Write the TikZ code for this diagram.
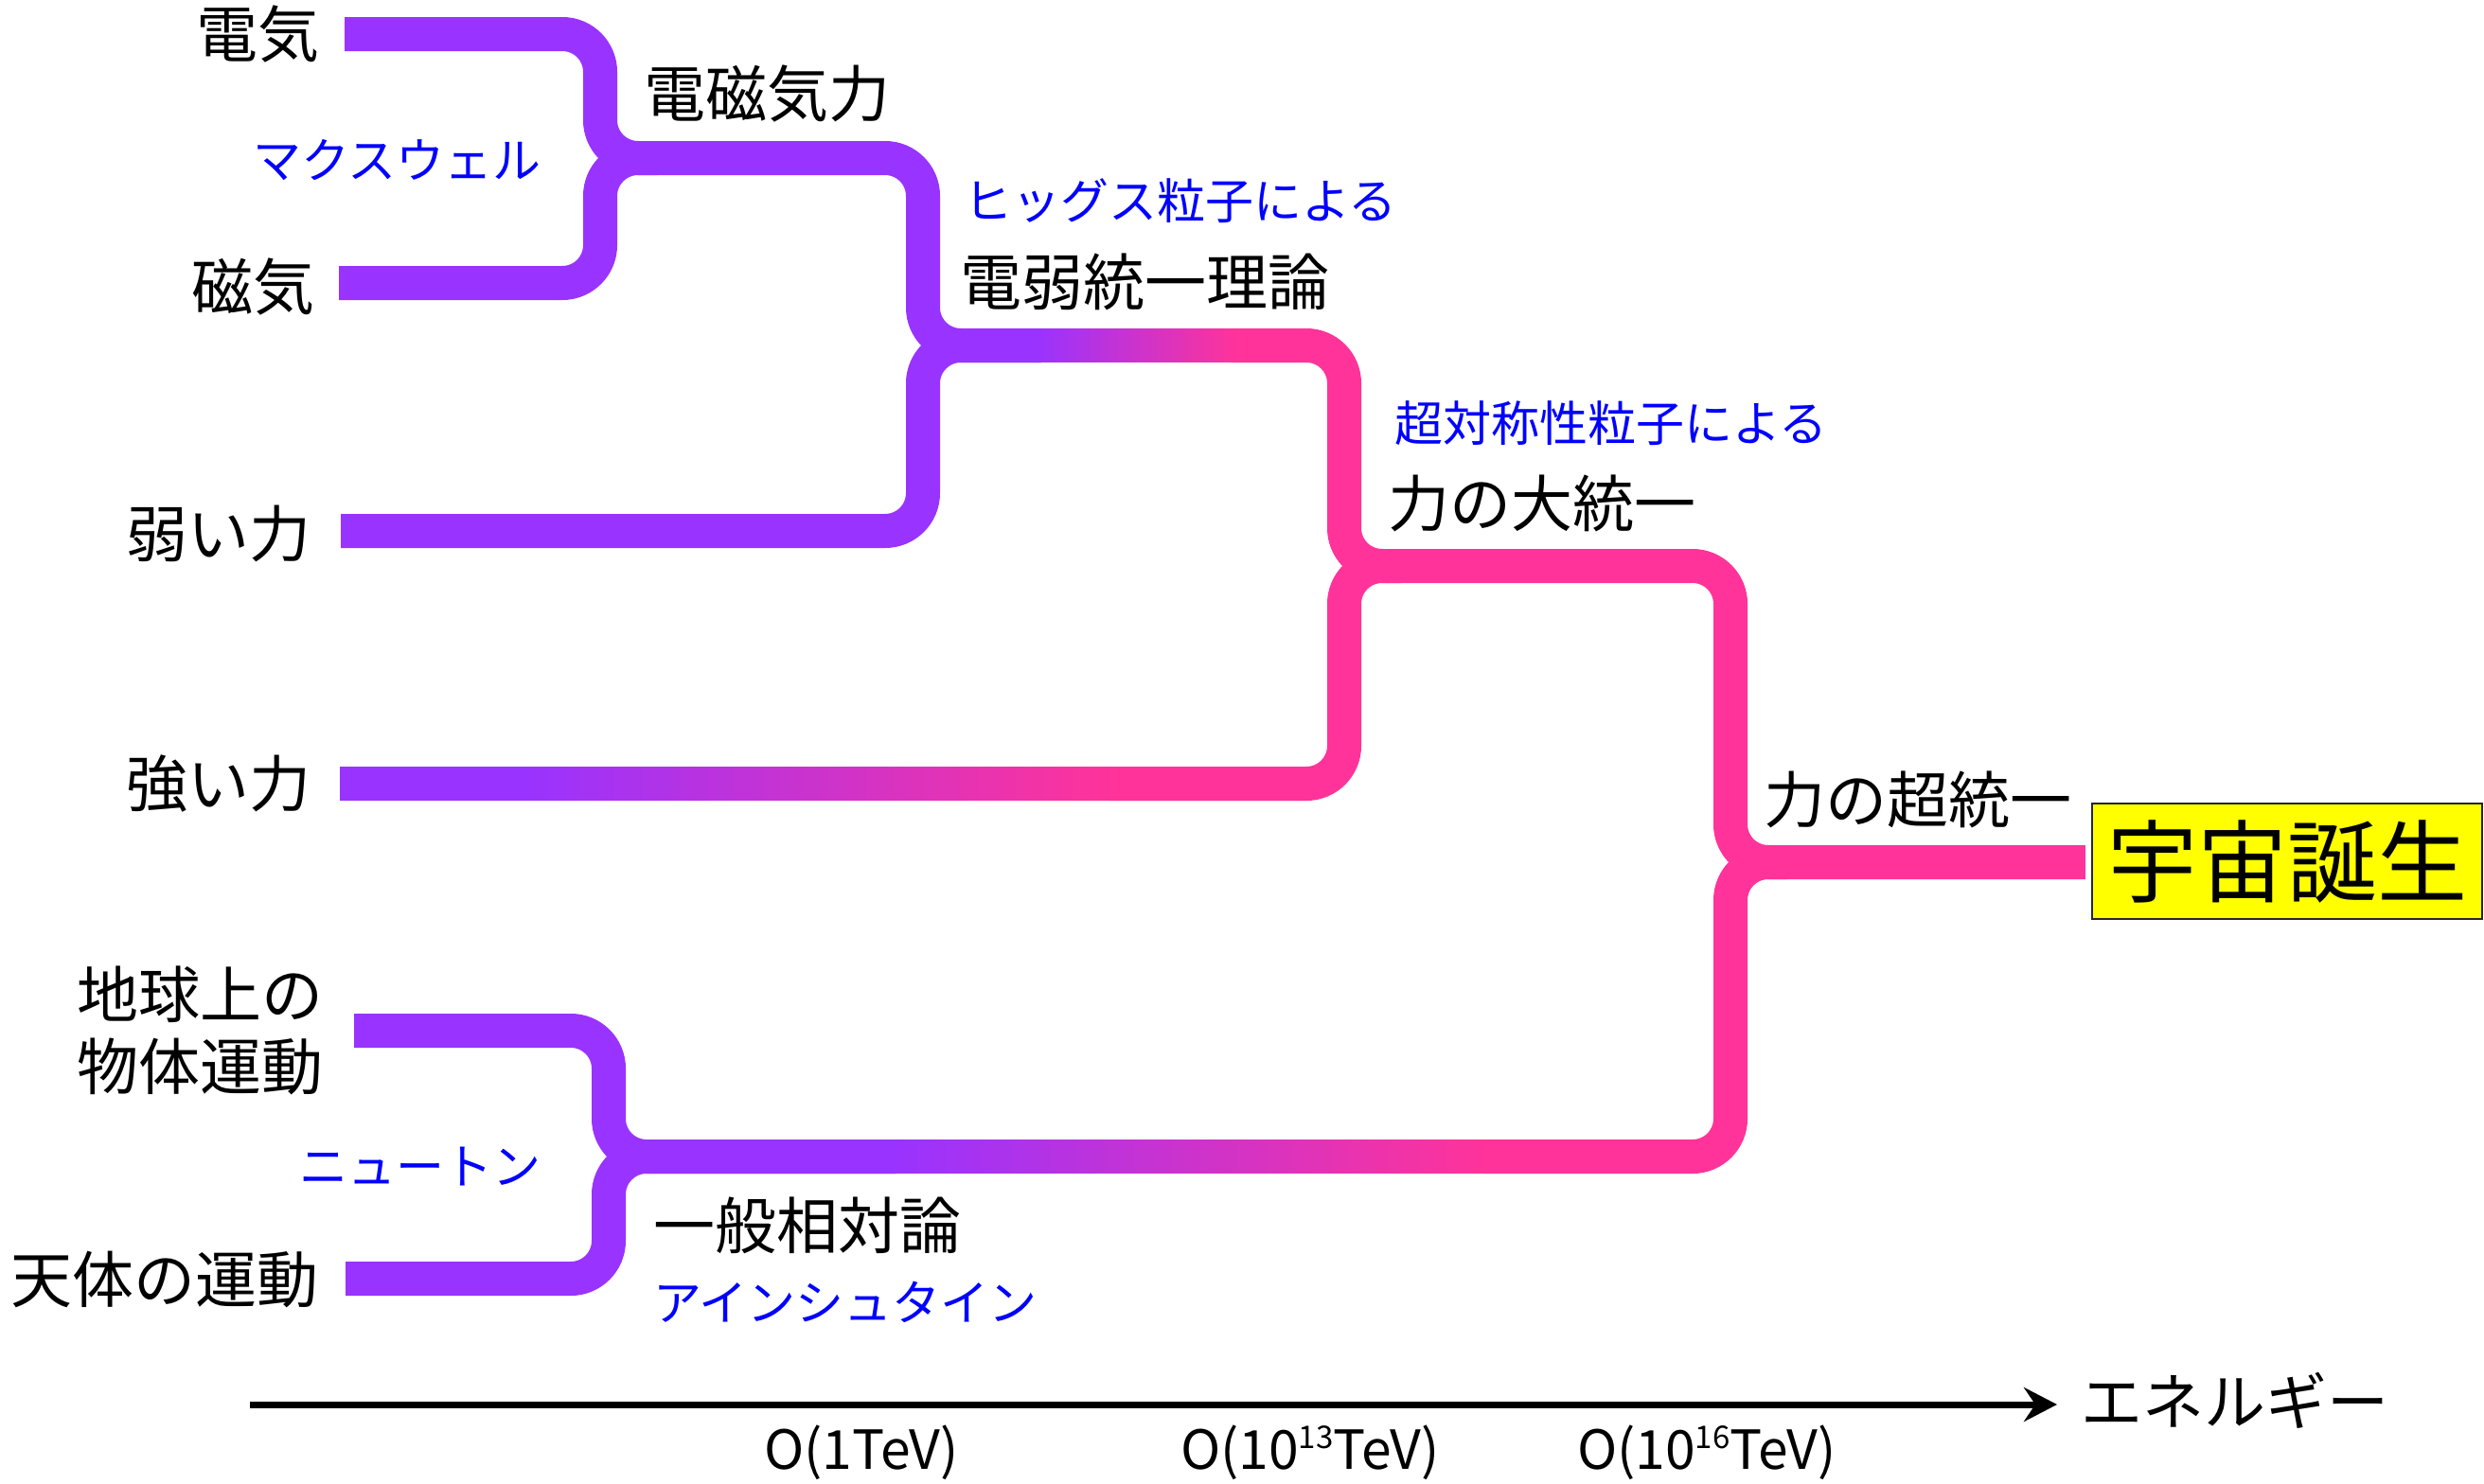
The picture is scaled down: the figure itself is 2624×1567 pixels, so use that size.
\documentclass[tikz,border=0pt]{standalone}
\usepackage{fontspec}
\setmainfont{Noto Sans CJK JP}
\usetikzlibrary{arrows.meta,calc}
\definecolor{pur}{RGB}{153,51,255}
\definecolor{pnk}{RGB}{255,51,153}
\definecolor{lblue}{RGB}{0,0,255}
\definecolor{yel}{RGB}{255,255,0}
% purple-to-pink bar made of thin overlapping strokes: #1 start x, #2 end x, #3 y
\newcommand\myGradBar[3]{%
  \pgfmathsetmacro\stepw{(#2-#1)/64}%
  \foreach \i in {0,...,63} {%
    \pgfmathtruncatemacro\p{round(100*\i/63)}%
    \pgfmathsetmacro\xa{#1+\stepw*\i}%
    \pgfmathsetmacro\xb{#1+\stepw*(\i+1)+1.5}%
    \draw[line width=36pt, pnk!\p!pur] (\xa,#3) -- (\xb,#3);
  }%
}
\begin{document}
\begin{tikzpicture}[x=1pt,y=-1pt,
  branch/.style={line width=36pt, rounded corners=40pt},
  big/.style={font=\fontsize{65}{76}\selectfont, inner sep=0pt, text=black},
  note/.style={font=\fontsize{51}{60}\selectfont, inner sep=0pt, text=lblue},
  scalelabel/.style={font=\fontsize{57}{60}\selectfont, inner sep=0pt, text=black},
]
\useasboundingbox (0,0) rectangle (2624,1567);

% junction points
\coordinate (J1) at (634,167);
\coordinate (J2) at (975,365);
\coordinate (J3) at (1420,598);
\coordinate (J4) at (1828,911);
\coordinate (J5) at (643,1222);
% branch starts
\coordinate (sElec) at (364,36);
\coordinate (sMag) at (358,299);
\coordinate (sWeak) at (360,561);
\coordinate (sStrong) at (359,828);
\coordinate (sEarth) at (374,1089);
\coordinate (sSky) at (365,1351);

% goal box
\node[draw=black!85, line width=2.5pt, fill=yel, minimum width=412pt, minimum height=122pt,
      inner sep=0pt, font=\fontsize{95}{100}\selectfont] (box) at (2416,910) {宇宙誕生};

% pink branches (start where the colour gradient has become pink)
\draw[branch,pnk] (1300,365) -| (J3) -| (J4) -- ([xshift=-6pt]box.west |- J4);
\draw[branch,pnk] (1172,828) -| (J3) -- ++(60,0);
\draw[branch,pnk] (1567,1222) -| (J4) -- ++(60,0);

% purple branches
\draw[branch,pur] (sElec) -| (J1) -| (J2) -- (1100,365);
\draw[branch,pur] (sMag) -| (J1) -- ++(60,0);
\draw[branch,pur] (sWeak) -| (J2) -- (1100,365);
\draw[branch,pur] (sStrong) -- (558,828);
\draw[branch,pur] (sEarth) -| (J5) -- (946,1222);
\draw[branch,pur] (sSky) -| (J5) -- (946,1222);

% colour transitions on the bars
\myGradBar{1093}{1310}{365}
\myGradBar{550}{1182}{828}
\myGradBar{939}{1577}{1222}

% labels
\node[big,anchor=east] (tElec) at (338,36) {電気};
\node[big,anchor=east] (tMag) at (333,303) {磁気};
\node[note,anchor=east] (tMax) at (572,169) {マクスウェル};
\node[big,anchor=west] (tEM) at (680,99) {電磁気力};
\node[note,anchor=west] (tHiggs) at (1018,212) {ヒッグス粒子による};
\node[big,anchor=west] (tEW) at (1014,298) {電弱統一理論};
\node[big,anchor=east] (tWeak) at (329,564) {弱い力};
\node[note,anchor=west] (tSusy) at (1473,447) {超対称性粒子による};
\node[big,anchor=west] (tGUT) at (1466,532) {力の大統一};
\node[big,anchor=east] (tStrong) at (329,828) {強い力};
\node[big,anchor=west] (tSuper) at (1863,845) {力の超統一};
\node[big,anchor=west,align=left] (tEarth) at (81,1089) {地球上の\\物体運動};
\node[big,anchor=east] (tSky) at (337,1352) {天体の運動};
\node[note,anchor=east] (tNewton) at (572,1233) {ニュートン};
\node[big,anchor=west] (tGR) at (690,1295) {一般相対論};
\node[note,anchor=west] (tEin) at (690,1376) {アインシュタイン};

% energy axis
\coordinate (axs) at (264,1484);
\coordinate (axe) at (2173,1484);
\draw[line width=7pt, -{Stealth[length=35pt,width=36pt,inset=12pt]}] (axs) -- (axe);
\node[big,anchor=west] (tEnergy) at (2198,1480) {エネルギー};
\node[scalelabel] (s1) at (910,1535) {O(1TeV)};
\node[scalelabel] (s2) at (1384,1535) {O(10\raisebox{22pt}{\fontsize{33}{33}\selectfont 13}TeV)};
\node[scalelabel] (s3) at (1803,1535) {O(10\raisebox{22pt}{\fontsize{33}{33}\selectfont 16}TeV)};
\end{tikzpicture}
\end{document}
